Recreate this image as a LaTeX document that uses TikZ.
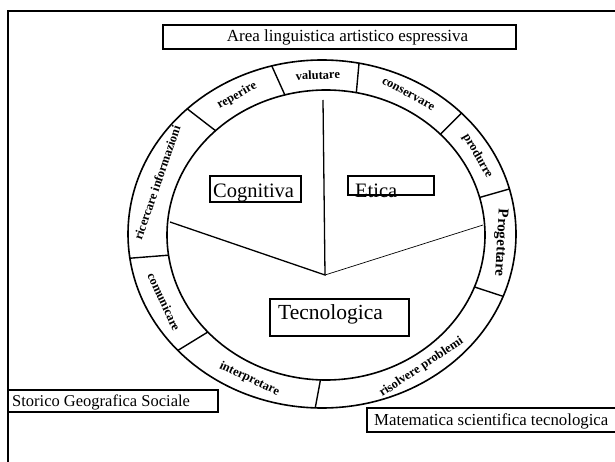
\documentclass[tikz,border=0pt]{standalone}
\usepackage{fontspec}
\setmainfont{Liberation Serif}
\usetikzlibrary{positioning}

\tikzset{
  areabox/.style={draw, line width=1.6pt, inner sep=0pt},
  boxtext/.style={inner sep=0pt, font=\fontsize{16.5}{16.5}\selectfont},
  bigtext/.style={inner sep=0pt, font=\fontsize{20.5}{20.5}\selectfont},
  ringtext/.style={inner sep=0pt, font=\fontsize{12.5}{12.5}\selectfont\bfseries},
}

\begin{document}
\begin{tikzpicture}[x=1pt, y=1pt]
    \useasboundingbox (0,0) rectangle (615,461);
    \fill[white] (0,0) rectangle (615,461);

    % Page frame (cut on the right and at the bottom)
    \draw[line width=1.8pt] (8,-2) -- (8,450) -- (617,450);

    % Area at the top
    \node[areabox, minimum width=353, minimum height=24] (linguabox) at (339.5,424) {};
    \node[boxtext, font=\fontsize{17}{17}\selectfont] (lingua) at ([xshift=8]linguabox) {Area linguistica artistico espressiva};

    % The ring
    \draw[line width=1.6pt] (322,227) ellipse [x radius=194, y radius=174];
    \draw[line width=1.6pt] (326,226) ellipse [x radius=159, y radius=145];
    \foreach \a in {15,44,79,105,134,188,222,268,339}
        \draw[line width=1.4pt] ([shift={(326,226)}]\a:159 and 145) -- ([shift={(322,227)}]\a:194 and 174);

    % Words in the ring (upper half, read clockwise)
    \foreach \t/\w [count=\i] in {29.5/produrre, 61.5/conservare, 92/valutare, 119.5/reperire, 161/ricercare informazioni}
        \node[ringtext, rotate=\t-90] (ringup\i) at ([shift={(324,226.5)}]\t:176.5 and 159.5) {\w};
    \node[ringtext, font=\fontsize{15}{15}\selectfont\bfseries, rotate=-93] (progetta) at ([shift={(324,226.5)}]357:176.5 and 159.5) {Progettare};

    % Words in the ring (lower half)
    \foreach \t/\w [count=\i] in {205/comunicare, 245/interpretare, 303.5/risolvere problemi}
        \node[ringtext, rotate=\t+90] (ringdown\i) at ([shift={(324,226.5)}]\t:176.5 and 159.5) {\w};

    % Sectors inside
    \coordinate (hub) at (325,186);
    \draw[line width=1.3pt] (323,361) -- (hub) -- (170,239);
    \draw[line width=0.7pt] (hub) -- (483,236);

    % Sector boxes
    \node[areabox, minimum width=91, minimum height=26] (cognbox) at (255.5,272) {};
    \node[bigtext, anchor=base west] (cogn) at (213,263) {Cognitiva};
    \node[areabox, minimum width=86, minimum height=19] (eticabox) at (391,275.5) {};
    \node[bigtext, anchor=base west] (etica) at (355,263) {Etica};
    \node[areabox, minimum width=139, minimum height=37] (tecnobox) at (339.5,143.5) {};
    \node[bigtext, font=\fontsize{21.5}{21.5}\selectfont, anchor=base west] (tecno) at (278,142) {Tecnologica};

    % Areas at the bottom
    \node[areabox, minimum width=210, minimum height=22] (storiabox) at (113,60) {};
    \node[boxtext, anchor=base west] (storia) at (12,55) {Storico Geografica Sociale};
    \node[areabox, minimum width=258, minimum height=24] (matebox) at (496,41) {};
    \node[boxtext, font=\fontsize{16.8}{16.8}\selectfont, anchor=base west] (mate) at (374,36) {Matematica scientifica tecnologica};
\end{tikzpicture}
\end{document}
